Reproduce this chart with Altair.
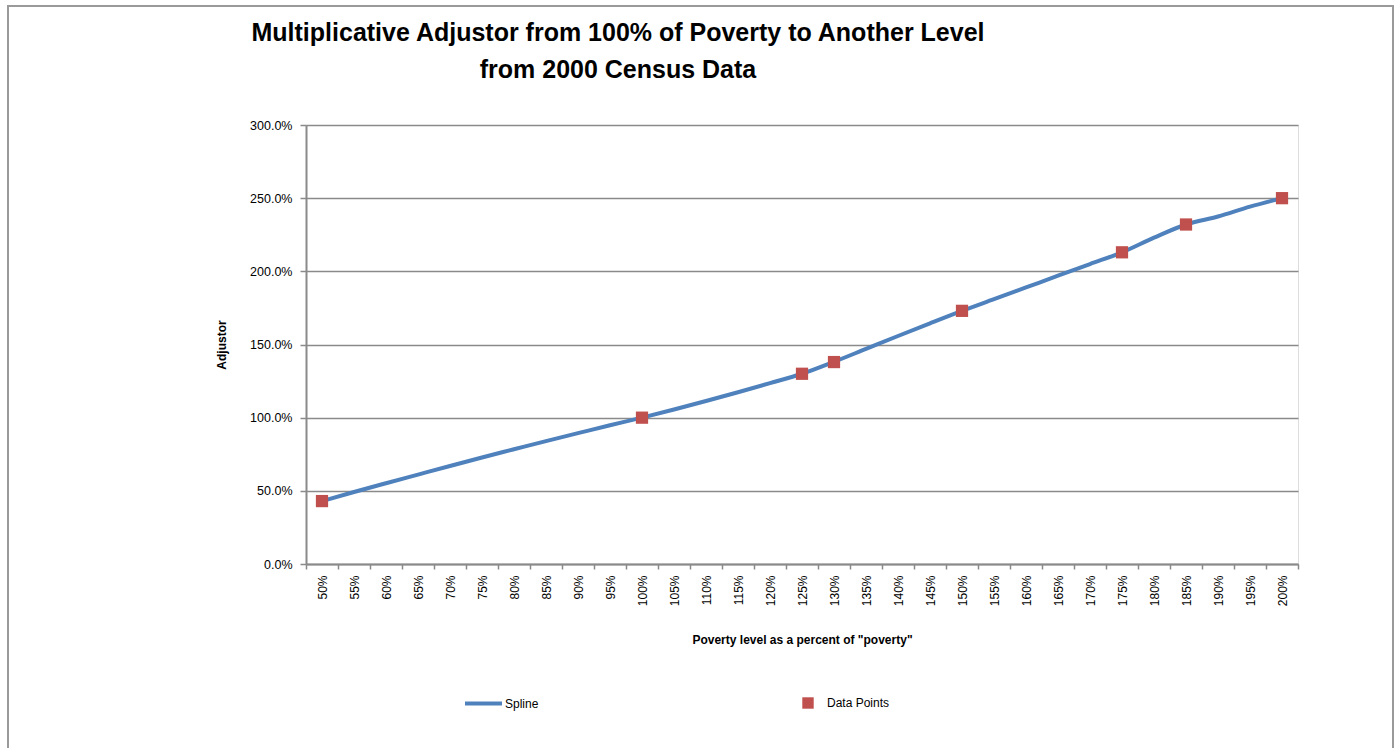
import altair as alt
import pandas as pd

# ---- data ----
categories = ["50%", "55%", "60%", "65%", "70%", "75%", "80%", "85%", "90%", "95%",
              "100%", "105%", "110%", "115%", "120%", "125%", "130%", "135%", "140%", "145%",
              "150%", "155%", "160%", "165%", "170%", "175%", "180%", "185%", "190%", "195%", "200%"]
spline_values = [0.430, 0.492, 0.552, 0.611, 0.670, 0.728, 0.784, 0.840, 0.894, 0.948,
                 1.000, 1.056, 1.114, 1.174, 1.236, 1.300, 1.382, 1.470, 1.558, 1.645,
                 1.730, 1.810, 1.890, 1.970, 2.050, 2.130, 2.230, 2.320, 2.375, 2.442, 2.500]
point_categories = ["50%", "100%", "125%", "130%", "150%", "175%", "185%", "200%"]
point_values = [0.43, 1.00, 1.30, 1.38, 1.73, 2.13, 2.32, 2.50]
y_ticks = [0, 0.5, 1.0, 1.5, 2.0, 2.5, 3.0]

title_lines = ["Multiplicative Adjustor from 100% of Poverty to Another Level",
               "from 2000 Census Data"]

spline_df = pd.DataFrame({"cat": categories, "value": spline_values, "series": "Spline"})
points_df = pd.DataFrame({"cat": point_categories, "value": point_values, "series": "Data Points"})

FONT = "Liberation Sans"
GRID = "#8a8a8a"

x_enc = alt.X(
    "cat:O", sort=categories, bandPosition=0.5,
    scale=alt.Scale(type="band", domain=categories, paddingInner=0, paddingOuter=0),
    axis=alt.Axis(
        title='Poverty level as a percent of "poverty"',
        titleFont=FONT, titleFontSize=12, titleFontWeight="bold", titleColor="#000",
        titlePadding=29,
        labelAngle=270, labelAlign="right", labelBaseline="middle",
        labelFont=FONT, labelFontSize=12, labelColor="#000", labelPadding=6,
        tickBand="extent", ticks=True, tickSize=5, tickColor=GRID, tickWidth=1.5,
        domainColor=GRID, domainWidth=2, grid=False,
    ),
)
y_enc = alt.Y(
    "value:Q",
    scale=alt.Scale(domain=[0, 3], nice=False, zero=True),
    axis=alt.Axis(
        title="Adjustor", titleFont=FONT, titleFontSize=12, titleFontWeight="bold",
        titleColor="#000", titlePadding=21,
        values=y_ticks, format=".1%",
        labelFont=FONT, labelFontSize=12.5, labelColor="#000", labelPadding=8,
        tickSize=6, tickColor=GRID, tickWidth=1.5,
        domainColor=GRID, domainWidth=2,
        grid=True, gridColor=GRID, gridWidth=1.5,
    ),
)

line = alt.Chart(spline_df).mark_line(
    interpolate="monotone", strokeWidth=4
).encode(
    x=x_enc, y=y_enc,
    color=alt.Color("series:N",
                    scale=alt.Scale(domain=["Spline"], range=["#4F81BD"]),
                    legend=alt.Legend(title=None, orient="none", legendX=157, legendY=558,
                                      symbolType="stroke", symbolSize=1369, symbolStrokeWidth=4,
                                      labelFont=FONT, labelFontSize=12, labelColor="#000",
                                      labelOffset=1, padding=0)),
)

points = alt.Chart(points_df).mark_point(
    shape="square", filled=True, size=150, opacity=1, color="#C0504D"
).encode(
    x=alt.X("cat:O", sort=categories, bandPosition=0.5),
    y="value:Q",
    shape=alt.Shape("series:N",
                    scale=alt.Scale(domain=["Data Points"], range=["square"]),
                    legend=alt.Legend(title=None, orient="none", legendX=496, legendY=572,
                                      symbolFillColor="#C0504D", symbolStrokeColor="#C0504D",
                                      symbolStrokeWidth=0, symbolSize=130, symbolOpacity=1,
                                      labelFont=FONT, labelFontSize=12, labelColor="#000",
                                      labelOffset=13, padding=0)),
)

frame = alt.Chart(pd.DataFrame({"k": [0]})).mark_rect(
    fill="transparent", stroke="#9a9a9a", strokeWidth=2
).encode(
    x=alt.value(-298), x2=alt.value(1087), y=alt.value(-119), y2=alt.value(640)
)

chart = alt.layer(frame, line, points).resolve_scale(
    color="independent", shape="independent"
).properties(
    width=992, height=439,
    title=alt.TitleParams(text=title_lines, font=FONT, fontSize=25, fontWeight="bold",
                          color="#000", anchor="middle", dx=-184, dy=118,
                          lineHeight=37, offset=40),
    autosize=alt.AutoSizeParams(type="none"),
    padding={"left": 306, "top": 125, "right": 96, "bottom": 184},
).configure_view(stroke="transparent").configure(background="white")

chart.save("out.html", embed_options={"renderer": "svg", "actions": False})
